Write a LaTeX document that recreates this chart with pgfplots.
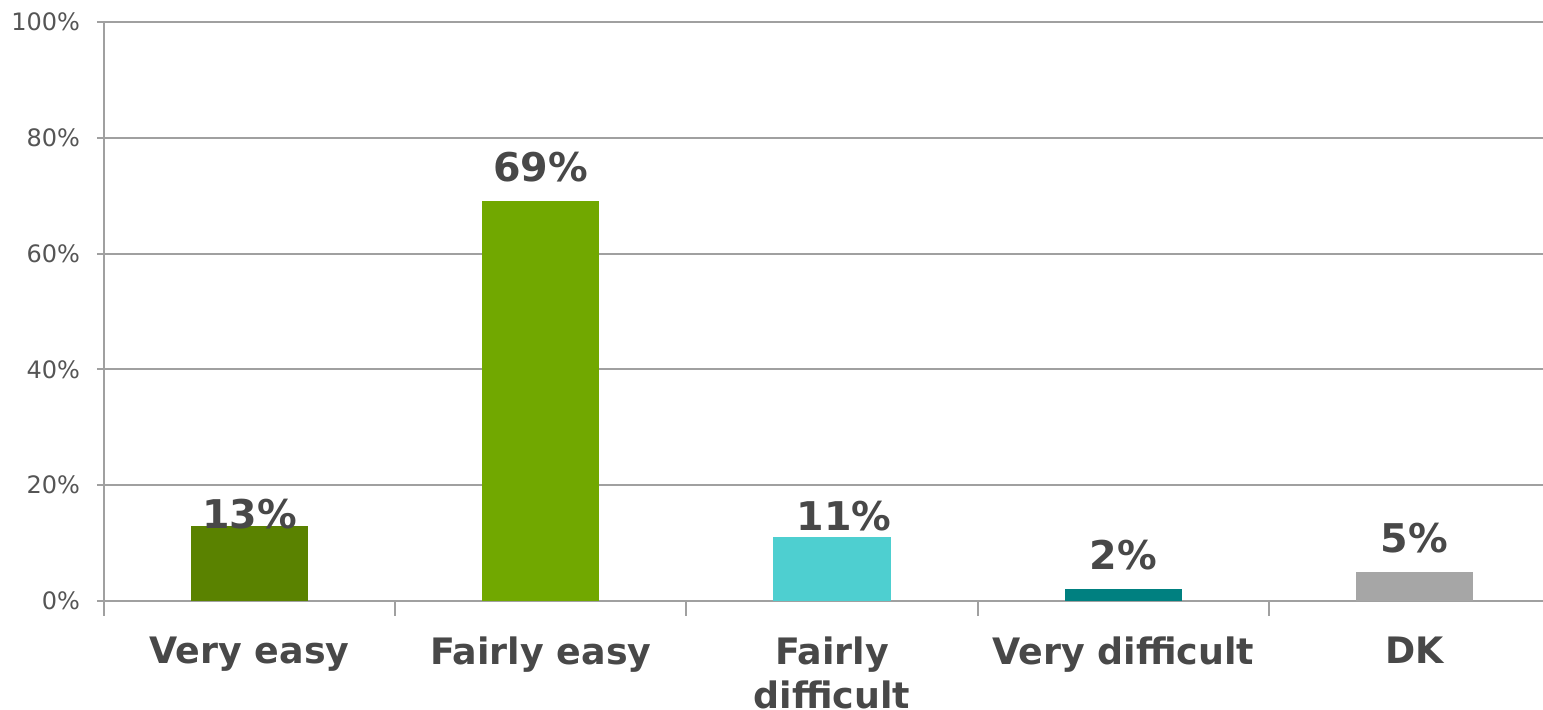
\documentclass[border=0pt]{standalone}
\usepackage{pgfplots}
\pgfplotsset{compat=1.18}
\usepackage{fontspec}
\setmainfont{DejaVu Sans}
\definecolor{c1}{HTML}{5A8200}
\definecolor{c2}{HTML}{71A800}
\definecolor{c3}{HTML}{4ECFD0}
\definecolor{c4}{HTML}{008080}
\definecolor{c5}{HTML}{A6A6A6}
\definecolor{txt}{HTML}{484848}
\definecolor{tick}{HTML}{555555}
\definecolor{ax}{HTML}{A0A0A0}
\begin{document}
\begin{tikzpicture}
\path[use as bounding box] (0,0) rectangle (771.5pt,355pt);
\begin{axis}[
  at={(52pt,54.5pt)}, anchor=south west,
  scale only axis, width=728pt, height=289.5pt,
  /pgf/number format/assume math mode=true,
  xmin=-0.5, xmax=4.5, ymin=0, ymax=100,
  axis x line*=bottom, axis y line*=left,
  axis line style={ax, line width=1pt},
  ytick={0,20,...,100},
  yticklabel={\pgfmathprintnumber{\tick}\%},
  yticklabel style={font=\fontsize{12}{14}\selectfont, text=tick, xshift=-5pt},
  ymajorgrids, grid style={ax, line width=1pt},
  xtick={0,1,2,3,4},
  xticklabels={Very easy, Fairly easy, Fairly\\difficult, Very difficult, DK},
  xticklabel style={font=\bfseries\fontsize{18.2}{22}\selectfont, text=txt, align=center, anchor=north, yshift=-11pt},
  minor xtick={-0.5,0.5,...,4.5},
  tick align=outside,
  major tick length=3.5pt,
  x tick style={draw=none},
  y tick style={ax, line width=1pt},
  minor x tick style={draw=ax, line width=1pt},
  minor tick length=7.5pt,
  ybar, bar width=0.402, bar shift=0pt,
  nodes near coords={\pgfmathprintnumber{\pgfplotspointmeta}\%},
  every node near coord/.append style={font=\bfseries\fontsize{19.8}{22}\selectfont, text=txt, anchor=base, yshift=10pt},
  clip=false,
]
\addplot[fill=c1, draw=none, every node near coord/.append style={yshift=-11.2pt}] coordinates {(0,13)};
\addplot[fill=c2, draw=none] coordinates {(1,69)};
\addplot[fill=c3, draw=none, every node near coord/.append style={yshift=-6.5pt, xshift=6pt}] coordinates {(2,11)};
\addplot[fill=c4, draw=none] coordinates {(3,2)};
\addplot[fill=c5, draw=none] coordinates {(4,5)};
\end{axis}
\end{tikzpicture}
\end{document}
